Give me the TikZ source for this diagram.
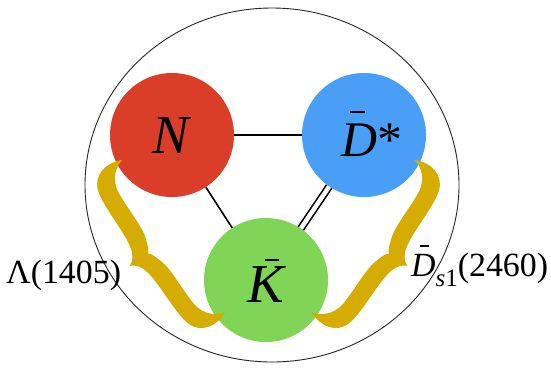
\documentclass[tikz,border=0pt]{standalone}
\usepackage{fontspec}
\setmainfont{Liberation Serif}
\definecolor{nred}{RGB}{218,62,40}
\definecolor{dblue}{RGB}{73,159,245}
\definecolor{kgreen}{RGB}{128,213,86}
\definecolor{bgold}{RGB}{212,173,0}
\newcommand\obar[4]{\leavevmode\rlap{\hspace{#1}\rule[#2]{#3}{0.05em}}\textit{#4}}
\newcommand\bracepath{(0,0)
      .. controls (-7,14) and (-4,32) .. (12,37)
      .. controls (30,42) and (60,38) .. (77,42)
      .. controls (86,44) and (90,48) .. (92,53)
      .. controls (94,48) and (98,44) .. (107,42)
      .. controls (124,38) and (154,42) .. (172,37)
      .. controls (188,32) and (191,14) .. (184,0)
      .. controls (181,10) and (174,19) .. (160,21)
      .. controls (140,23) and (116,20) .. (104,25)
      .. controls (98,27) and (94,28) .. (92,31)
      .. controls (90,28) and (86,27) .. (80,25)
      .. controls (68,20) and (44,23) .. (24,21)
      .. controls (10,19) and (3,10) .. (0,0) -- cycle}
\tikzset{
  ball/.style={circle, minimum size=124bp, inner sep=0pt, draw=none},
  edge/.style={line width=1.6bp, black},
  biglab/.style={inner sep=0pt, font=\fontsize{55}{55}\selectfont},
  sidelab/.style={inner sep=0pt, anchor=base west, font=\fontsize{34}{34}\selectfont},
  bracefill/.style={fill=bgold}
}
\begin{document}
\begin{tikzpicture}[x=1bp,y=-1bp]
\useasboundingbox (0,0) rectangle (551,368);
\fill[white] (0,0) rectangle (551,368);
% outer circle
\draw[line width=0.9bp, black!85] (272,185) ellipse [x radius=187, y radius=177];
% particles
\node[ball, fill=nred] (N) at (172,135) {};
\node[ball, fill=dblue] (D) at (364,135) {};
\node[ball, fill=kgreen] (K) at (266,280) {};
% connectors
\draw[edge] (N) -- (D);
\draw[edge] (N) -- (K);
\draw[edge, double=white, double distance=4.5bp] (D) -- (K);
% braces
\begin{scope}[shift={(122,160)}, rotate=-55.9]
  \fill[bracefill] \bracepath;
\end{scope}
\begin{scope}[shift={(415,160)}, xscale=-1, rotate=-55.9]
  \fill[bracefill] \bracepath;
\end{scope}
% labels
\node[biglab, anchor=base] (nlab) at (172,153) {\textit{N}};
\node[biglab, anchor=base west, font=\fontsize{50}{50}\selectfont] (dlab) at (341,156) {\obar{0.17em}{0.86em}{0.31em}{D}*};
\node[biglab, anchor=base] (klab) at (267,302) {\obar{0.31em}{0.74em}{0.27em}{K}};
\node[sidelab] (lam) at (6,283) {Λ(1405)};
\node[sidelab] (ds) at (411,276) {\obar{0.25em}{0.86em}{0.27em}{D}\raisebox{-0.3em}{\fontsize{25}{25}\selectfont\textit{s}1}(2460)};
\end{tikzpicture}
\end{document}
